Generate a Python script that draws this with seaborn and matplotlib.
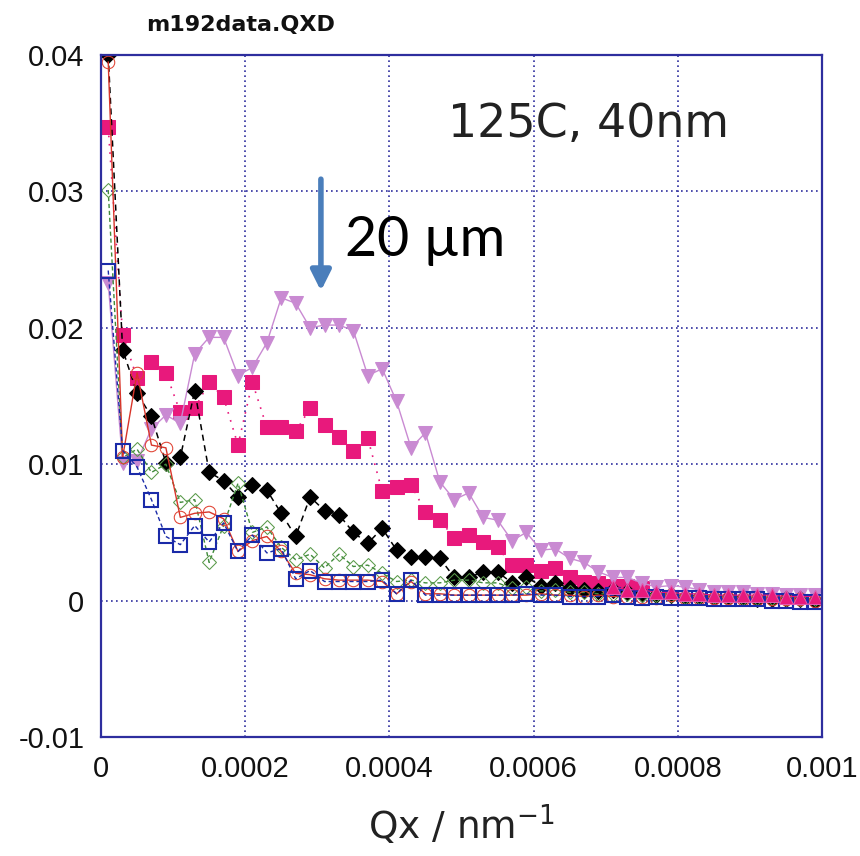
import matplotlib
matplotlib.use("Agg")
import matplotlib.pyplot as plt
import seaborn as sns
import pandas as pd

qx = [0.00001, 0.00003, 0.00005, 0.00007, 0.00009, 0.00011, 0.00013, 0.00015, 0.00017, 0.00019,
      0.00021, 0.00023, 0.00025, 0.00027, 0.00029, 0.00031, 0.00033, 0.00035, 0.00037, 0.00039,
      0.00041, 0.00043, 0.00045, 0.00047, 0.00049, 0.00051, 0.00053, 0.00055, 0.00057, 0.00059,
      0.00061, 0.00063, 0.00065, 0.00067, 0.00069, 0.00071, 0.00073, 0.00075, 0.00077, 0.00079,
      0.00081, 0.00083, 0.00085, 0.00087, 0.00089, 0.00091, 0.00093, 0.00095, 0.00097, 0.00099]

black_diamond = [0.0400, 0.0184, 0.0152, 0.0135, 0.0101, 0.0105, 0.0154, 0.0094, 0.0088, 0.0076,
                 0.0085, 0.0081, 0.0064, 0.0047, 0.0076, 0.0066, 0.0063, 0.0050, 0.0042, 0.0053,
                 0.0037, 0.0032, 0.0032, 0.0031, 0.0017, 0.0017, 0.0021, 0.0021, 0.0013, 0.0017,
                 0.0011, 0.0013, 0.0009, 0.0008, 0.0007, 0.0008, 0.0006, 0.0005, 0.0004, 0.0004,
                 0.0003, 0.0003, 0.0002, 0.0002, 0.0002, 0.0001, 0.0001, 0.0001, 0.0001, 0.0000]

pink_square = [0.0347, 0.0195, 0.0163, 0.0175, 0.0167, 0.0138, 0.0141, 0.0160, 0.0149, 0.0114,
               0.0160, 0.0127, 0.0127, 0.0124, 0.0141, 0.0129, 0.0120, 0.0110, 0.0119, 0.0080,
               0.0083, 0.0085, 0.0065, 0.0059, 0.0046, 0.0048, 0.0043, 0.0039, 0.0026, 0.0026,
               0.0022, 0.0024, 0.0017, 0.0014, 0.0013, 0.0011, 0.0011, 0.0009]

violet_tri = [0.0233, 0.0101, 0.0102, 0.0126, 0.0136, 0.0130, 0.0181, 0.0193, 0.0193, 0.0165,
              0.0171, 0.0189, 0.0222, 0.0218, 0.0200, 0.0202, 0.0202, 0.0198, 0.0165, 0.0170,
              0.0146, 0.0112, 0.0123, 0.0087, 0.0074, 0.0079, 0.0061, 0.0059, 0.0044, 0.0050,
              0.0037, 0.0038, 0.0031, 0.0028, 0.0021, 0.0017, 0.0017, 0.0013, 0.0010, 0.0011,
              0.0010, 0.0008, 0.0006, 0.0006, 0.0006, 0.0005, 0.0005, 0.0004, 0.0004, 0.0004]

red_circle = [0.0395, 0.0105, 0.0167, 0.0114, 0.0112, 0.0061, 0.0064, 0.0065, 0.0060, 0.0036,
              0.0044, 0.0047, 0.0036, 0.0020, 0.0019, 0.0016, 0.0015, 0.0015, 0.0015, 0.0014,
              0.0005, 0.0014, 0.0005, 0.0005, 0.0004, 0.0004, 0.0004, 0.0004, 0.0004, 0.0004,
              0.0005, 0.0004, 0.0004, 0.0003, 0.0004, 0.0003, 0.0003, 0.0003, 0.0002, 0.0004,
              0.0002, 0.0002, 0.0002, 0.0002, 0.0001, 0.0001, 0.0001, 0.0001, 0.0001, 0.0000]

green_diamond = [0.0301, 0.0105, 0.0111, 0.0094, 0.0100, 0.0072, 0.0074, 0.0028, 0.0055, 0.0086,
                 0.0050, 0.0054, 0.0039, 0.0030, 0.0034, 0.0024, 0.0034, 0.0025, 0.0026, 0.0020,
                 0.0014, 0.0015, 0.0013, 0.0013, 0.0015, 0.0015, 0.0013, 0.0013, 0.0009, 0.0010,
                 0.0007, 0.0008, 0.0006, 0.0006, 0.0005, 0.0005, 0.0005, 0.0004, 0.0004, 0.0004,
                 0.0003, 0.0003, 0.0003, 0.0002, 0.0002, 0.0002, 0.0002, 0.0001, 0.0001, 0.0001]

blue_square = [0.0242, 0.0110, 0.0098, 0.0074, 0.0047, 0.0041, 0.0055, 0.0043, 0.0057, 0.0036,
               0.0048, 0.0035, 0.0038, 0.0016, 0.0022, 0.0014, 0.0014, 0.0014, 0.0014, 0.0015,
               0.0005, 0.0015, 0.0004, 0.0004, 0.0004, 0.0004, 0.0004, 0.0004, 0.0004, 0.0005,
               0.0004, 0.0004, 0.0003, 0.0003, 0.0003, 0.0004, 0.0003, 0.0002, 0.0003, 0.0002,
               0.0002, 0.0002, 0.0001, 0.0001, 0.0001, 0.0001, 0.0000, 0.0000, -0.0001, -0.0001]

pink_tri_start = 35
pink_tri = [0.0010, 0.0008, 0.0008, 0.0006, 0.0006, 0.0005, 0.0005, 0.0004, 0.0004, 0.0004,
            0.0004, 0.0004, 0.0003, 0.0003, 0.0003]

xticks = [0, 0.0002, 0.0004, 0.0006, 0.0008, 0.001]
xtick_labels = ["0", "0.0002", "0.0004", "0.0006", "0.0008", "0.001"]
yticks = [-0.01, 0, 0.01, 0.02, 0.03, 0.04]
ytick_labels = ["-0.01", "0", "0.01", "0.02", "0.03", "0.04"]

sns.set_theme(style="white")
plt.rcParams["font.family"] = ["DejaVu Sans"]

NAVY = "#2E2E9E"
fig = plt.figure(figsize=(8.6, 8.56), dpi=100)
ax = fig.add_axes([101 / 860, 1 - 737 / 856, 721 / 860, 682 / 856])

series = [
    (pink_square, qx[:len(pink_square)], dict(color="#E8197C", marker="s", markersize=10, markerfacecolor="#E8197C",
                                               markeredgecolor="#E8197C", linestyle=(0, (1, 4)), linewidth=1.2)),
    (violet_tri, qx, dict(color="#C98AD2", marker="v", markersize=10, markerfacecolor="#C98AD2",
                          markeredgecolor="#C98AD2", linestyle="-", linewidth=1.0)),
    (black_diamond, qx, dict(color="black", marker="D", markersize=8, markerfacecolor="black",
                             markeredgecolor="black", linestyle=(0, (4, 3)), linewidth=1.1)),
    (green_diamond, qx, dict(color="#3F8A3A", marker="D", markersize=7.5, markerfacecolor="none",
                             markeredgecolor="#5A9A4A", linestyle=(0, (3, 2)), linewidth=1.0)),
    (red_circle, qx, dict(color="#D8352A", marker="o", markersize=9, markerfacecolor="none",
                          markeredgecolor="#E04030", linestyle="-", linewidth=1.0)),
    (blue_square, qx, dict(color="#1A2AA8", marker="s", markersize=9.5, markerfacecolor="none",
                           markeredgecolor="#1A2AA8", markeredgewidth=1.5, linestyle=(0, (3, 2)), linewidth=1.0)),
    (pink_tri, qx[pink_tri_start:pink_tri_start + len(pink_tri)],
     dict(color="#E8197C", marker="^", markersize=10, markerfacecolor="#E8197C",
          markeredgecolor="#E25AB0", linestyle="-", linewidth=0.8)),
]

for yv, xv, kw in series:
    df = pd.DataFrame({"qx": xv, "val": yv})
    sns.lineplot(data=df, x="qx", y="val", ax=ax, estimator=None, sort=False, legend=False, **kw)

ax.set_xlim(0, 0.001)
ax.set_ylim(-0.01, 0.04)
ax.set_xticks(xticks)
ax.set_xticklabels(xtick_labels, family=["Liberation Sans", "DejaVu Sans"])
ax.set_yticks(yticks)
ax.set_yticklabels(ytick_labels, family=["Liberation Sans", "DejaVu Sans"])
ax.grid(True, color=NAVY, linestyle=(0, (1, 2)), linewidth=1.2)
ax.set_axisbelow(True)
for sp in ax.spines.values():
    sp.set_color(NAVY)
    sp.set_linewidth(1.6)
ax.tick_params(axis="both", direction="in", length=6, width=1.6, color=NAVY,
               labelsize=21, labelcolor="#111111")
ax.tick_params(axis="x", pad=13)
ax.tick_params(axis="y", pad=12)
ax.set_xlabel("Qx / nm$^{-1}$", fontsize=27, color="#222222", labelpad=14)
ax.set_ylabel("")

fig.text(241 / 860, 1 - 25 / 856, "m192data.QXD", fontsize=16, fontweight="bold",
         ha="center", va="center", color="#111111")
fig.text(588 / 860, 1 - 125 / 856, "125C, 40nm", fontsize=33, ha="center", va="center", color="#222222")
fig.text(345 / 860, 1 - 240 / 856, "20 \u00b5m", fontsize=40, family=["Lato", "DejaVu Sans"],
         ha="left", va="center", color="black")
ax.annotate("", xy=(0.000305, 0.0225), xytext=(0.000305, 0.0311),
            arrowprops=dict(arrowstyle="-|>,head_width=0.5,head_length=1.0", color="#4A7EBB", lw=4))

fig.savefig("out.png", dpi=100)
